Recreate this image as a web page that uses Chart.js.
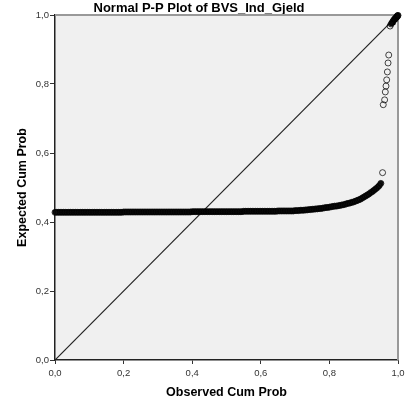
<!DOCTYPE html>
<html>
<head>
<meta charset="utf-8">
<script src="https://cdn.jsdelivr.net/npm/chart.js@4"></script>
<style>
  html, body { margin: 0; padding: 0; background: #fff; }
  canvas { display: block; }
</style>
</head>
<body>
<canvas id="ppChart" width="418" height="414"></canvas>
<script>
// dense run of cases: observed cum prob (x) / expected cum prob (y)
let bandObs = [
  0.000,0.005,0.010,0.015,0.020,0.025,0.030,0.035,0.040,0.045,0.050,0.055,0.060,0.065,0.070,0.075,0.080,0.085,0.090,0.095,
  0.100,0.105,0.110,0.115,0.120,0.125,0.130,0.135,0.140,0.145,0.150,0.155,0.160,0.165,0.170,0.175,0.180,0.185,0.190,0.195,
  0.200,0.205,0.210,0.215,0.220,0.225,0.230,0.235,0.240,0.245,0.250,0.255,0.260,0.265,0.270,0.275,0.280,0.285,0.290,0.295,
  0.300,0.305,0.310,0.315,0.320,0.325,0.330,0.335,0.340,0.345,0.350,0.355,0.360,0.365,0.370,0.375,0.380,0.385,0.390,0.395,
  0.400,0.405,0.410,0.415,0.420,0.425,0.430,0.435,0.440,0.445,0.450,0.455,0.460,0.465,0.470,0.475,0.480,0.485,0.490,0.495,
  0.500,0.505,0.510,0.515,0.520,0.525,0.530,0.535,0.540,0.545,0.550,0.555,0.560,0.565,0.570,0.575,0.580,0.585,0.590,0.595,
  0.600,0.605,0.610,0.615,0.620,0.625,0.630,0.635,0.640,0.645,0.650,0.655,0.660,0.665,0.670,0.675,0.680,0.685,0.690,0.695,
  0.700,0.705,0.710,0.715,0.720,0.725,0.730,0.735,0.740,0.745,0.750,0.755,0.760,0.765,0.770,0.775,0.780,0.785,0.790,0.795,
  0.800,0.805,0.810,0.815,0.820,0.825,0.830,0.835,0.840,0.845,0.850,0.855,0.860,0.865,0.870,0.875,0.880,0.885,0.890,0.895,
  0.900,0.905,0.910,0.915,0.920,0.925,0.930,0.935,0.940,0.945,0.950
];
let bandExp = [
  0.428,0.428,0.428,0.428,0.428,0.428,0.428,0.428,0.428,0.428,0.428,0.428,0.428,0.428,0.428,0.428,0.428,0.428,0.428,0.428,
  0.428,0.428,0.428,0.428,0.428,0.428,0.428,0.428,0.428,0.428,0.428,0.428,0.428,0.428,0.428,0.428,0.428,0.428,0.428,0.428,
  0.429,0.429,0.429,0.429,0.429,0.429,0.429,0.429,0.429,0.429,0.429,0.429,0.429,0.429,0.429,0.429,0.429,0.429,0.429,0.429,
  0.429,0.429,0.429,0.429,0.429,0.429,0.429,0.429,0.429,0.429,0.429,0.429,0.429,0.429,0.429,0.429,0.429,0.429,0.429,0.429,
  0.430,0.430,0.430,0.430,0.430,0.430,0.430,0.430,0.430,0.430,0.430,0.430,0.430,0.430,0.430,0.430,0.430,0.430,0.430,0.430,
  0.430,0.430,0.430,0.430,0.430,0.430,0.430,0.430,0.430,0.430,0.431,0.431,0.431,0.431,0.431,0.431,0.431,0.431,0.431,0.431,
  0.431,0.431,0.431,0.431,0.431,0.431,0.431,0.431,0.431,0.431,0.432,0.432,0.432,0.432,0.432,0.432,0.432,0.432,0.432,0.432,
  0.433,0.433,0.433,0.434,0.434,0.434,0.435,0.435,0.436,0.436,0.437,0.437,0.438,0.438,0.439,0.439,0.440,0.441,0.442,0.442,
  0.443,0.444,0.445,0.446,0.446,0.447,0.448,0.449,0.450,0.451,0.453,0.454,0.455,0.457,0.458,0.460,0.462,0.464,0.466,0.469,
  0.472,0.475,0.478,0.481,0.485,0.488,0.492,0.496,0.500,0.505,0.512
];

// separate cases off the band
let strayObs = [0.955, 0.957, 0.961, 0.963, 0.965, 0.967, 0.969, 0.971, 0.973, 0.977];
let strayExp = [0.543, 0.740, 0.754, 0.777, 0.794, 0.812, 0.835, 0.861, 0.884, 0.968];

// tight cluster at the top right
let topObs = [0.980, 0.983, 0.985, 0.987, 0.989, 0.991, 0.993, 0.995, 0.996, 0.998, 0.999, 1.000];
let topExp = [0.974, 0.978, 0.981, 0.984, 0.987, 0.989, 0.991, 0.993, 0.995, 0.997, 0.998, 0.999];

// reference diagonal
let diagX = [0, 1];
let diagY = [0, 1];

let tickLabels = ['0,0', '0,2', '0,4', '0,6', '0,8', '1,0'];

Chart.defaults.font.family = "'Liberation Sans', Arial, sans-serif";
Chart.defaults.color = '#333';

function toPoints(xs, ys) {
    return xs.map((x, i) => ({ x: x, y: ys[i] }));
}

// grey plot area plus the light top/right frame
const plotFrame = {
    id: 'plotFrame',
    beforeDraw(chart) {
        const a = chart.chartArea;
        const c = chart.ctx;
        c.save();
        c.fillStyle = '#f0f0f0';
        c.fillRect(a.left, a.top, a.right - a.left, a.bottom - a.top);
        c.restore();
    },
    beforeDatasetsDraw(chart) {
        const a = chart.chartArea;
        const c = chart.ctx;
        c.save();
        c.strokeStyle = '#999';
        c.lineWidth = 2;
        c.beginPath();
        c.moveTo(a.left, a.top);
        c.lineTo(a.right, a.top);
        c.lineTo(a.right, a.bottom);
        c.stroke();
        c.restore();
    }
};

const ringStyle = {
    pointStyle: 'circle',
    pointRadius: 3,
    pointBorderWidth: 1,
    pointBorderColor: 'rgba(0,0,0,0.72)',
    pointBackgroundColor: 'rgba(0,0,0,0)',
    clip: 5
};

const ctx = document.getElementById('ppChart').getContext('2d');
let ppChart = new Chart(ctx, {
    type: 'scatter',
    data: {
        datasets: [
            Object.assign({
                label: 'top',
                data: toPoints(topObs, topExp),
                showLine: true,
                borderColor: '#111',
                borderWidth: 5,
                borderCapStyle: 'round'
            }, ringStyle),
            Object.assign({
                label: 'stray',
                data: toPoints(strayObs, strayExp),
                showLine: false
            }, ringStyle),
            Object.assign({
                label: 'band',
                data: toPoints(bandObs, bandExp),
                showLine: true,
                borderColor: '#111',
                borderWidth: 5.5,
                borderCapStyle: 'round'
            }, ringStyle),
            {
                type: 'line',
                label: 'diagonal',
                data: toPoints(diagX, diagY),
                borderColor: '#222',
                borderWidth: 1.2,
                pointRadius: 0,
                fill: false
            }
        ]
    },
    options: {
        responsive: false,
        animation: false,
        devicePixelRatio: 1,
        layout: { padding: { left: 0, right: 20, top: 0, bottom: 0 } },
        plugins: {
            legend: { display: false },
            tooltip: { enabled: false },
            title: {
                display: true,
                text: 'Normal P-P Plot of BVS_Ind_Gjeld',
                color: '#000',
                font: { size: 13, weight: 'bold', lineHeight: '12px' },
                padding: { top: 2, bottom: 1 }
            }
        },
        scales: {
            x: {
                type: 'linear',
                min: 0,
                max: 1,
                afterFit: s => { s.height = 54; },
                ticks: {
                    stepSize: 0.2,
                    font: { size: 9.5 },
                    padding: 4,
                    maxRotation: 0,
                    callback: (v, i) => tickLabels[i]
                },
                grid: { drawOnChartArea: false, tickLength: 4, color: '#333' },
                border: { color: '#222', width: 1.5 },
                title: {
                    display: true,
                    text: 'Observed Cum Prob',
                    color: '#000',
                    font: { size: 12.5, weight: 'bold', lineHeight: 1.2 },
                    padding: { top: 0, bottom: 13.5 }
                }
            },
            y: {
                type: 'linear',
                min: 0,
                max: 1,
                afterFit: s => { s.width = 55; },
                ticks: {
                    stepSize: 0.2,
                    font: { size: 9.5 },
                    padding: 1,
                    callback: (v, i) => tickLabels[i]
                },
                grid: { drawOnChartArea: false, tickLength: 5, color: '#333' },
                border: { color: '#222', width: 1.5 },
                title: {
                    display: true,
                    text: 'Expected Cum Prob',
                    color: '#000',
                    font: { size: 12.5, weight: 'bold', lineHeight: 1.2 },
                    padding: { top: 15.5, bottom: 0 }
                }
            }
        }
    },
    plugins: [plotFrame]
});
</script>
</body>
</html>
